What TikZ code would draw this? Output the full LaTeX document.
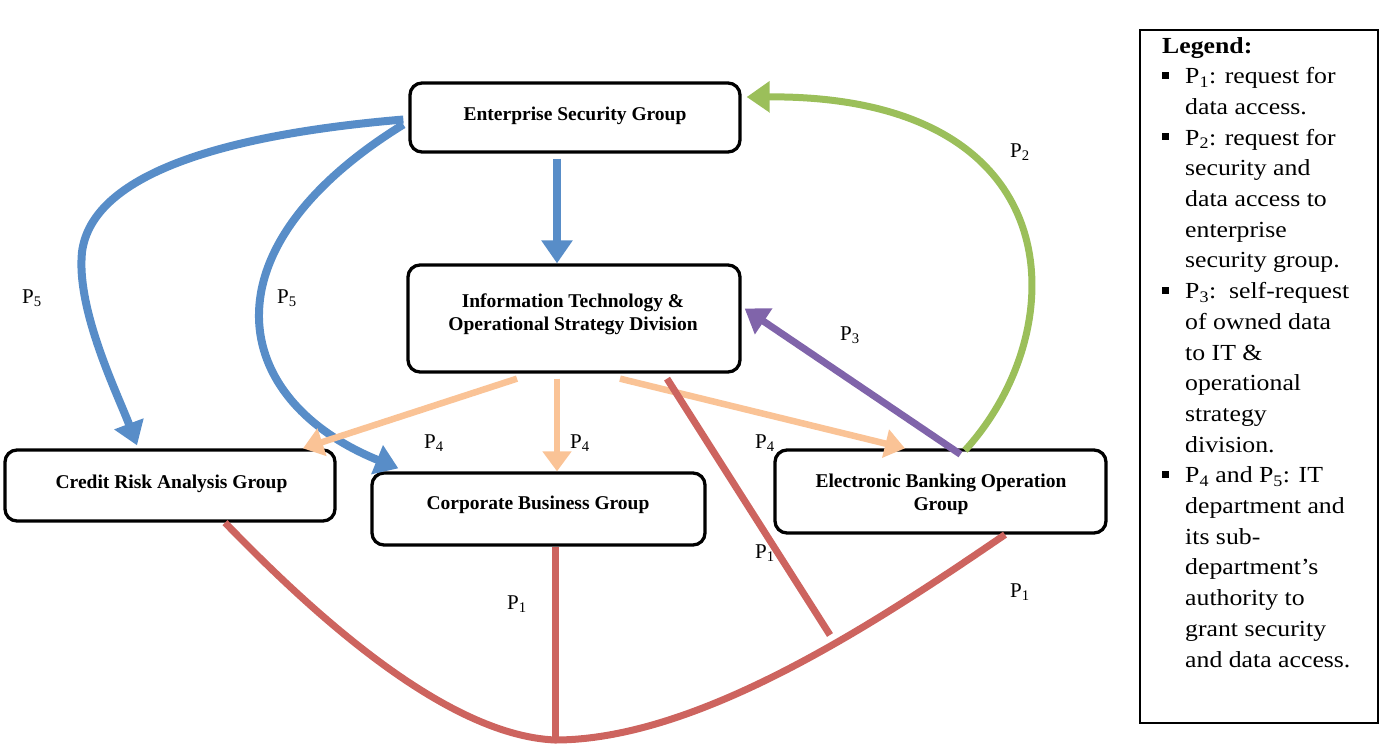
\documentclass[tikz,border=0pt]{standalone}
\usepackage{fontspec}
\setmainfont{Liberation Serif}
\newfontfamily\legendfont{Liberation Serif}[FakeStretch=1.12]
\usetikzlibrary{arrows.meta,calc}
\definecolor{cblue}{RGB}{88,141,200}
\definecolor{cgreen}{RGB}{155,191,90}
\definecolor{cpurple}{RGB}{128,100,170}
\definecolor{cpeach}{RGB}{250,195,150}
\definecolor{cred}{RGB}{205,100,95}
\newcommand{\sqbul}{\rule[5pt]{7pt}{7pt}}
\begin{document}
\begin{tikzpicture}[x=1pt,y=-1pt,
  box/.style={draw=black, line width=3.3pt, rounded corners=12pt, fill=white, inner sep=0pt},
  boxtext/.style={align=center, inner sep=0pt, font=\fontsize{19.5}{23}\selectfont\bfseries},
  tip/.style={-{Triangle[width=30pt,length=23pt]}},
  ptip/.style={-{Triangle[width=28pt,length=20pt]}},
  lab/.style={font=\fontsize{21}{23}\selectfont, inner sep=0pt},
  bluel/.style={draw=cblue, line width=8pt},
  greenl/.style={draw=cgreen, line width=7pt},
  purplel/.style={draw=cpurple, line width=7pt},
  peachl/.style={draw=cpeach, line width=6.5pt},
  redl/.style={draw=cred, line width=7pt},
]
\useasboundingbox (0,0) rectangle (1382,745);

% boxes
\node[box, minimum width=330pt, minimum height=69pt] (esg) at (575,117.5) {};
\node[box, minimum width=332pt, minimum height=107pt] (it) at (574,318.5) {};
\node[box, minimum width=330pt, minimum height=71pt] (crd) at (170,485.5) {};
\node[box, minimum width=333pt, minimum height=72pt] (corp) at (538.5,509) {};
\node[box, minimum width=331pt, minimum height=83pt] (ebo) at (940.5,491.5) {};

\node[boxtext] (esgt) at (575,115.5) {Enterprise Security Group};
\node[boxtext] (itt) at (573,314) {Information Technology \&\\Operational Strategy Division};
\node[boxtext] (crdt) at (171.5,483.5) {Credit Risk Analysis Group};
\node[boxtext] (corpt) at (538,504.5) {Corporate Business Group};
\node[boxtext] (ebot) at (941,494) {Electronic Banking Operation\\Group};

% blue P5 and ESG->IT
\coordinate (bl) at (82,252);
\draw[bluel, tip] ([xshift=-18pt,yshift=-5pt]esg.south) -- ([xshift=-17pt]it.north);
\draw[bluel, tip] ([xshift=-5pt,yshift=-2pt]esg.west) .. controls (220,135) and (92,175) .. (bl)
  .. controls (76,310) and (118,395) .. ([xshift=-33pt,yshift=3pt]crd.north);
\draw[bluel, tip] ([xshift=-5pt,yshift=-7pt]esg.west) .. controls (200,250) and (230,400) .. ([xshift=28pt,yshift=3pt]corp.north west);

% green P2
\draw[greenl, tip] ([xshift=24.5pt,yshift=-2pt]ebo.north) .. controls (1075,330) and (1075,95) .. ([xshift=5pt,yshift=20.5pt]esg.east);

% purple P3
\draw[purplel, tip] ([xshift=20pt,yshift=-6pt]ebo.north) -- ([xshift=3pt,yshift=10pt]it.east);

% peach P4
\draw[peachl, ptip] ([xshift=-57pt,yshift=-5pt]it.south) -- ([xshift=133pt]crd.north);
\draw[peachl, ptip] ([xshift=-17pt,yshift=-5pt]it.south) -- ([xshift=18.5pt]corp.north);
\draw[peachl, ptip] ([xshift=46pt,yshift=-5pt]it.south) -- ([xshift=-35.5pt]ebo.north);

% red P1
\coordinate (bot) at (555,740);
\coordinate (redend) at (830,635);
\draw[redl] ([xshift=55pt]crd.south) .. controls (300,600) and (440,735) .. (bot)
  .. controls (700,740) and (880,620) .. ([xshift=64.5pt]ebo.south);
\draw[redl] ([xshift=16.5pt]corp.south) -- (bot);
\draw[redl] ([xshift=93pt,yshift=-5pt]it.south) -- (redend);

% labels
\node[lab] (l5a) at (32,298) {P\textsubscript{5}};
\node[lab] (l5b) at (287,298) {P\textsubscript{5}};
\node[lab] (l2) at (1020,152) {P\textsubscript{2}};
\node[lab] (l3) at (850,335) {P\textsubscript{3}};
\node[lab] (l4a) at (434,443) {P\textsubscript{4}};
\node[lab] (l4b) at (580,443) {P\textsubscript{4}};
\node[lab] (l4c) at (765,443) {P\textsubscript{4}};
\node[lab] (l1a) at (765,553) {P\textsubscript{1}};
\node[lab] (l1b) at (517,604) {P\textsubscript{1}};
\node[lab] (l1c) at (1020,592) {P\textsubscript{1}};

% legend
\node[draw=black, line width=2.5pt, minimum width=238pt, minimum height=693pt, inner sep=0pt] (legbox) at (1259,376.5) {};
\node[anchor=base west, inner sep=0pt] (legend) at (1162,53) {\legendfont\fontsize{23}{30.7}\selectfont
\begin{tabular}[t]{@{}p{23pt}@{}l@{}}
\multicolumn{2}{@{}l@{}}{\bfseries Legend:}\\
\sqbul & P\textsubscript{1}: request for\\
 & data access.\\
\sqbul & P\textsubscript{2}: request for\\
 & security and\\
 & data access to\\
 & enterprise\\
 & security group.\\
\sqbul & P\textsubscript{3}:\ \ self-request\\
 & of owned data\\
 & to IT \&\\
 & operational\\
 & strategy\\
 & division.\\
\sqbul & P\textsubscript{4} and P\textsubscript{5}: IT\\
 & department and\\
 & its sub-\\
 & department’s\\
 & authority to\\
 & grant security\\
 & and data access.
\end{tabular}};
\end{tikzpicture}
\end{document}
